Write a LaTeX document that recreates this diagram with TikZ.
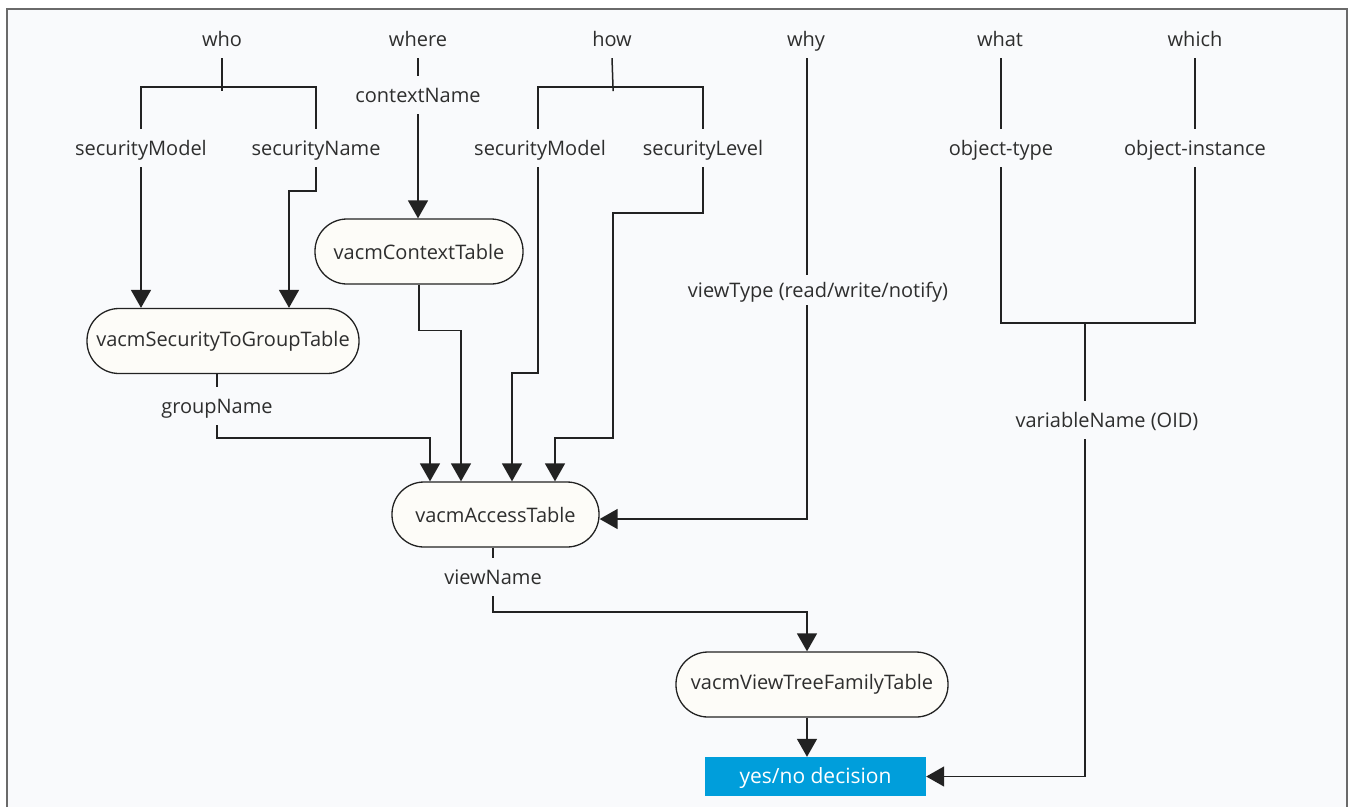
\documentclass[tikz,border=0pt]{standalone}
\usepackage{fontspec}
\setmainfont{Open Sans}
\usetikzlibrary{arrows.meta,calc}
\definecolor{bgc}{HTML}{F9FAFC}
\definecolor{framec}{HTML}{6A6A6A}
\definecolor{nodef}{HTML}{FDFCF8}
\definecolor{edge}{HTML}{222222}
\definecolor{txt}{HTML}{2E2E2E}
\definecolor{decblue}{HTML}{009EDB}
\begin{document}
\begin{tikzpicture}[x=1pt,y=-1pt,
  lbl/.style={inner sep=0pt, minimum height=38pt, text height=17pt, text depth=3pt,
    font=\fontsize{20}{24}\selectfont, text=txt},
  tbl/.style={draw=edge, fill=nodef, line width=1.3pt, rounded corners=32pt,
    minimum height=65pt, inner sep=0pt, font=\fontsize{20}{24}\selectfont, text=txt},
  conn/.style={draw=edge, line width=1.5pt},
  arr/.style={conn, -{Triangle[width=20pt,length=18pt]}},
]
\useasboundingbox (0,0) rectangle (1349,807);
\fill[bgc] (7,9) rectangle (1347,807);
\draw[framec, line width=2pt] (7,807) -- (7,9) -- (1347,9) -- (1347,807);

% top level labels
\node[lbl] (who)   at (222,39) {who};
\node[lbl] (where) at (418,39) {where};
\node[lbl] (how)   at (612,39) {how};
\node[lbl] (why)   at (806,39) {why};
\node[lbl] (what)  at (1000,39) {what};
\node[lbl] (which) at (1195,39) {which};

\node[lbl] (cn)  at (418,95) {contextName};
\node[lbl] (smL) at (141,148) {securityModel};
\node[lbl] (smN) at (316,148) {securityName};
\node[lbl] (smM) at (540,148) {securityModel};
\node[lbl] (sl)  at (703,148) {securityLevel};
\node[lbl] (ot)  at (1001,148) {object-type};
\node[lbl] (oi)  at (1195,148) {object-instance};

\node[lbl, minimum height=30pt] (vt) at (818,290) {viewType (read/write/notify)};
\node[lbl] (gn)  at (217,406) {groupName};
\node[lbl] (var) at (1107,420) {variableName (OID)};
\node[lbl] (vn)  at (493,577) {viewName};

% tables
\node[tbl, minimum width=208pt] (ctx) at (419,251.5) {vacmContextTable};
\node[tbl, minimum width=272pt] (stg) at (223,341) {vacmSecurityToGroupTable};
\node[tbl, minimum width=207pt] (acc) at (495.5,514.5) {vacmAccessTable};
\node[tbl, minimum width=272pt] (vtf) at (812,684.5) {vacmViewTreeFamilyTable};
\node[fill=decblue, minimum width=221pt, minimum height=39pt, inner sep=0pt,
  text height=16pt, text depth=3pt,
  text=white, font=\fontsize{21}{24}\selectfont] (dec) at (815.5,776.5) {yes/no decision};

% junctions
\coordinate (jwho) at (222,87);
\coordinate (jhow) at (613,87);
\coordinate (jobj) at (1085,323);

% who
\draw[conn] (who.south) -- (jwho) -- ++(0,4);
\draw[conn] (smL.north) |- (jwho) -| (smN.north);
\draw[arr] (smL.south) -- (smL.south |- stg.north);
\draw[arr] (smN.south) -- ++(0,24) -| ([xshift=66pt]stg.north);

% where
\draw[conn] (where.south) -- (cn.north);
\draw[arr] (cn.south) -- (cn.south |- ctx.north);
\draw[arr] (ctx.south) -- ++(0,46) -| ([xshift=-34.5pt]acc.north);

% groupName
\draw[conn] (stg.south -| gn) -- (gn.north);
\draw[arr] (gn.south) -- ++(0,13) -| ([xshift=-65.5pt]acc.north);

% how
\draw[conn] (how.south) -- (jhow) -- ++(0,4);
\draw[conn] (smM.north -| 538,0) |- (jhow) -| (sl.north);
\draw[arr] (smM.south -| 538,0) -- (538,373) -| ([xshift=16.5pt]acc.north);
\draw[arr] (sl.south) -- ++(0,46) -| (613,438) -| ([xshift=59.5pt]acc.north);

% why
\draw[conn] (why.south -| 807,0) -- (vt.north -| 807,0);
\draw[arr] (vt.south -| 807,0) |- ([yshift=-4.5pt]acc.east);

% access -> view tree
\draw[conn] (acc.south -| vn) -- (vn.north);
\draw[arr] (vn.south) -- ++(0,16) -| ([xshift=-5pt]vtf.north);
\draw[arr] ([xshift=-5pt]vtf.south) -- ([xshift=-5pt]vtf.south |- dec.north);

% what / which
\draw[conn] (what.south -| ot) -- (ot.north);
\draw[conn] (which.south) -- (oi.north);
\draw[conn] (ot.south) |- (jobj) -| (oi.south);
\draw[conn] (jobj) -- (jobj |- var.north);
\draw[arr] (jobj |- var.south) |- (dec.east);
\end{tikzpicture}
\end{document}
